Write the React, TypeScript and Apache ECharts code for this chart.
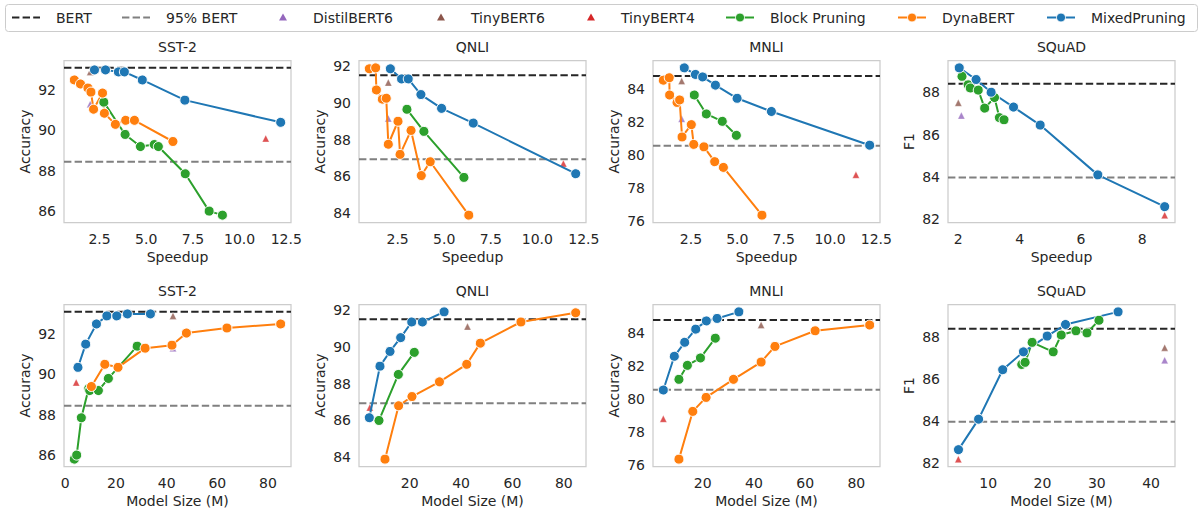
import React, { useEffect, useRef } from "react";
import * as echarts from "echarts";

const TASKS = ["SST-2", "QNLI", "MNLI", "SQuAD"];
const METRICS = ["Accuracy", "Accuracy", "Accuracy", "F1"];
const BERT = [93.1, 91.5, 84.8, 88.4];
const BERT95 = [88.45, 86.93, 80.56, 83.98];

const DISTIL_SPEEDUP = [2.0, 2.0, 2.0, 2.1];
const DISTIL_SIZE = [42.5, 42.5, 42.5, 42.5];
const DISTIL_SCORE = [91.3, 89.15, 82.2, 86.9];
const TINY6_SPEEDUP = [2.0, 2.0, 2.0, 2.0];
const TINY6_SIZE = [42.5, 42.5, 42.8, 42.5];
const TINY6_SCORE = [92.9, 91.1, 84.5, 87.5];
const TINY4_SPEEDUP = [11.4, 11.4, 11.4, 8.73];
const TINY4_SIZE = [4.3, 4.5, 4.6, 4.5];
const TINY4_SCORE = [89.6, 86.7, 78.8, 82.2];

// ---- Speedup row ----
const SST_SPD_MIXED_X = [2.23, 2.82, 3.51, 3.83, 4.79, 7.07, 12.2];
const SST_SPD_MIXED_Y = [93.0, 93.0, 92.9, 92.9, 92.5, 91.5, 90.4];
const SST_SPD_DYNA_X = [1.15, 1.48, 1.88, 2.04, 2.18, 2.66, 2.76, 3.35, 3.9, 4.37, 6.43];
const SST_SPD_DYNA_Y = [92.5, 92.3, 92.1, 91.9, 91.05, 91.85, 90.85, 90.3, 90.5, 90.5, 89.45];
const SST_SPD_BLOCK_X = [2.73, 3.87, 4.69, 5.43, 5.65, 7.09, 8.37, 9.08];
const SST_SPD_BLOCK_Y = [91.4, 89.8, 89.2, 89.3, 89.2, 87.85, 86.0, 85.8];

const QNLI_SPD_MIXED_X = [2.11, 2.71, 3.07, 3.75, 4.86, 6.56, 12.06];
const QNLI_SPD_MIXED_Y = [91.85, 91.3, 91.3, 90.45, 89.7, 88.9, 86.15];
const QNLI_SPD_DYNA_X = [0.98, 1.32, 1.36, 1.68, 1.89, 2.0, 2.52, 2.63, 3.22, 3.77, 4.25, 6.32];
const QNLI_SPD_DYNA_Y = [91.85, 91.9, 90.7, 90.2, 90.25, 87.75, 89.0, 87.2, 88.5, 86.05, 86.8, 83.9];
const QNLI_SPD_BLOCK_X = [3.0, 3.91, 6.06];
const QNLI_SPD_BLOCK_Y = [89.65, 88.45, 85.95];

const MNLI_SPD_MIXED_X = [2.14, 2.74, 3.13, 3.82, 4.99, 6.84, 12.14];
const MNLI_SPD_MIXED_Y = [85.3, 84.9, 84.75, 84.25, 83.45, 82.65, 80.6];
const MNLI_SPD_DYNA_X = [1.01, 1.33, 1.35, 1.75, 1.89, 2.02, 2.52, 2.65, 3.2, 3.78, 4.25, 6.33];
const MNLI_SPD_DYNA_Y = [84.55, 84.7, 83.65, 83.2, 83.35, 81.1, 81.85, 80.65, 80.5, 79.6, 79.25, 76.35];
const MNLI_SPD_BLOCK_X = [2.68, 3.33, 4.19, 4.95];
const MNLI_SPD_BLOCK_Y = [83.65, 82.5, 82.05, 81.2];

const SQUAD_SPD_MIXED_X = [2.03, 2.58, 3.07, 3.8, 4.67, 6.55, 8.73];
const SQUAD_SPD_MIXED_Y = [89.15, 88.6, 88.0, 87.3, 86.45, 84.1, 82.6];
const SQUAD_SPD_BLOCK_X = [2.12, 2.32, 2.39, 2.65, 2.86, 3.18, 3.34, 3.49];
const SQUAD_SPD_BLOCK_Y = [88.75, 88.35, 88.2, 88.1, 87.25, 87.75, 86.8, 86.7];

// ---- Model size row ----
const SST_SIZE_MIXED_X = [5.0, 8.05, 12.3, 16.4, 20.3, 24.5, 33.6];
const SST_SIZE_MIXED_Y = [90.35, 91.5, 92.5, 92.9, 92.9, 93.0, 93.0];
const SST_SIZE_DYNA_X = [10.3, 15.6, 20.8, 31.5, 42.1, 47.8, 63.8, 85.0];
const SST_SIZE_DYNA_Y = [89.4, 90.5, 90.35, 91.3, 91.45, 92.05, 92.3, 92.5];
const SST_SIZE_BLOCK_X = [3.56, 4.49, 6.33, 9.23, 9.63, 13.06, 17.0, 28.36];
const SST_SIZE_BLOCK_Y = [85.8, 86.0, 87.85, 89.3, 89.2, 89.2, 89.8, 91.4];

const QNLI_SIZE_MIXED_X = [4.3, 8.45, 12.35, 16.5, 20.8, 24.95, 33.4];
const QNLI_SIZE_MIXED_Y = [86.15, 88.95, 89.75, 90.5, 91.35, 91.35, 91.9];
const QNLI_SIZE_DYNA_X = [10.4, 15.7, 20.9, 31.6, 42.2, 47.5, 63.3, 84.6];
const QNLI_SIZE_DYNA_Y = [83.9, 86.8, 87.3, 88.1, 89.05, 90.2, 91.35, 91.85];
const QNLI_SIZE_BLOCK_X = [8.06, 15.6, 21.8];
const QNLI_SIZE_BLOCK_Y = [86.0, 88.5, 89.7];

const MNLI_SIZE_MIXED_X = [4.6, 8.9, 12.95, 17.25, 21.4, 25.6, 34.1];
const MNLI_SIZE_MIXED_Y = [80.55, 82.6, 83.45, 84.25, 84.75, 84.9, 85.3];
const MNLI_SIZE_DYNA_X = [10.7, 16.1, 21.3, 32.0, 42.8, 48.2, 63.9, 85.2];
const MNLI_SIZE_DYNA_Y = [76.35, 79.25, 80.1, 81.2, 82.25, 83.2, 84.15, 84.5];
const MNLI_SIZE_BLOCK_X = [10.7, 14.0, 19.1, 24.9];
const MNLI_SIZE_BLOCK_Y = [81.2, 82.05, 82.5, 83.7];

const SQUAD_SIZE_MIXED_X = [4.53, 8.23, 12.67, 16.49, 20.86, 24.24, 33.92];
const SQUAD_SIZE_MIXED_Y = [82.65, 84.1, 86.45, 87.3, 88.05, 88.6, 89.2];
const SQUAD_SIZE_BLOCK_X = [16.18, 16.8, 18.09, 21.97, 23.45, 26.16, 28.19, 30.4];
const SQUAD_SIZE_BLOCK_Y = [86.7, 86.8, 87.75, 87.3, 88.1, 88.3, 88.2, 88.8];

const Y_TICKS = [
  [86, 88, 90, 92],
  [84, 86, 88, 90, 92],
  [76, 78, 80, 82, 84],
  [82, 84, 86, 88],
];
const SPEEDUP_TICKS = [2.5, 5, 7.5, 10, 12.5];
const SQUAD_SPEEDUP_TICKS = [2, 4, 6, 8];
const SIZE_TICKS = [0, 20, 40, 60, 80];
const SQUAD_SIZE_TICKS = [10, 20, 30, 40];

const LEGEND_NAMES = ["BERT", "95% BERT", "DistilBERT6", "TinyBERT6", "TinyBERT4", "Block Pruning", "DynaBERT", "MixedPruning"];

const C = {
  blue: "#1f77b4",
  orange: "#ff7f0e",
  green: "#2ca02c",
  red: "#d62728",
  purple: "#9467bd",
  brown: "#8c564b",
  bert: "#262626",
  bert95: "#808080",
  text: "#262626",
  frame: "#cccccc",
};

type Pair = [number[], number[]] | null;
interface Panel {
  task: number;
  row: number;
  block: Pair;
  dyna: Pair;
  mixed: Pair;
}

const PANELS: Panel[] = [
  { task: 0, row: 0, block: [SST_SPD_BLOCK_X, SST_SPD_BLOCK_Y], dyna: [SST_SPD_DYNA_X, SST_SPD_DYNA_Y], mixed: [SST_SPD_MIXED_X, SST_SPD_MIXED_Y] },
  { task: 1, row: 0, block: [QNLI_SPD_BLOCK_X, QNLI_SPD_BLOCK_Y], dyna: [QNLI_SPD_DYNA_X, QNLI_SPD_DYNA_Y], mixed: [QNLI_SPD_MIXED_X, QNLI_SPD_MIXED_Y] },
  { task: 2, row: 0, block: [MNLI_SPD_BLOCK_X, MNLI_SPD_BLOCK_Y], dyna: [MNLI_SPD_DYNA_X, MNLI_SPD_DYNA_Y], mixed: [MNLI_SPD_MIXED_X, MNLI_SPD_MIXED_Y] },
  { task: 3, row: 0, block: [SQUAD_SPD_BLOCK_X, SQUAD_SPD_BLOCK_Y], dyna: null, mixed: [SQUAD_SPD_MIXED_X, SQUAD_SPD_MIXED_Y] },
  { task: 0, row: 1, block: [SST_SIZE_BLOCK_X, SST_SIZE_BLOCK_Y], dyna: [SST_SIZE_DYNA_X, SST_SIZE_DYNA_Y], mixed: [SST_SIZE_MIXED_X, SST_SIZE_MIXED_Y] },
  { task: 1, row: 1, block: [QNLI_SIZE_BLOCK_X, QNLI_SIZE_BLOCK_Y], dyna: [QNLI_SIZE_DYNA_X, QNLI_SIZE_DYNA_Y], mixed: [QNLI_SIZE_MIXED_X, QNLI_SIZE_MIXED_Y] },
  { task: 2, row: 1, block: [MNLI_SIZE_BLOCK_X, MNLI_SIZE_BLOCK_Y], dyna: [MNLI_SIZE_DYNA_X, MNLI_SIZE_DYNA_Y], mixed: [MNLI_SIZE_MIXED_X, MNLI_SIZE_MIXED_Y] },
  { task: 3, row: 1, block: [SQUAD_SIZE_BLOCK_X, SQUAD_SIZE_BLOCK_Y], dyna: null, mixed: [SQUAD_SIZE_MIXED_X, SQUAD_SIZE_MIXED_Y] },
];

const GRID_LEFTS = [64, 359, 653, 948];
const GRID_TOPS = [60.5, 304.5];
const GRID_W = 227;
const GRID_H = 162;
const FONT = "DejaVu Sans";

function pairs(p: Pair): number[][] {
  if (!p) return [];
  const out = p[0].map((x, i) => [x, p[1][i]]);
  out.sort((a, b) => a[0] - b[0]);
  return out;
}

function buildOption() {
  const grids: any[] = [];
  const xAxes: any[] = [];
  const yAxes: any[] = [];
  const series: any[] = [];
  const titles: any[] = [];

  PANELS.forEach((p, i) => {
    const t = p.task;
    const left = GRID_LEFTS[t];
    const top = GRID_TOPS[p.row];
    grids.push({ left, top, width: GRID_W, height: GRID_H, show: true, borderColor: C.frame, borderWidth: 1.25, backgroundColor: "transparent" });

    const sx = p.row === 0 ? TINY4_SPEEDUP[t] : TINY4_SIZE[t];
    const s6 = p.row === 0 ? TINY6_SPEEDUP[t] : TINY6_SIZE[t];
    const sd = p.row === 0 ? DISTIL_SPEEDUP[t] : DISTIL_SIZE[t];
    const tri = [
      { name: "DistilBERT6", pt: [sd, DISTIL_SCORE[t]], color: C.purple },
      { name: "TinyBERT6", pt: [s6, TINY6_SCORE[t]], color: C.brown },
      { name: "TinyBERT4", pt: [sx, TINY4_SCORE[t]], color: C.red },
    ];
    const lines = [
      { name: "Block Pruning", d: pairs(p.block), color: C.green },
      { name: "DynaBERT", d: pairs(p.dyna), color: C.orange },
      { name: "MixedPruning", d: pairs(p.mixed), color: C.blue },
    ];
    const allX: number[] = [];
    const allY: number[] = [BERT[t], BERT95[t]];
    tri.forEach((s) => { allX.push(s.pt[0]); allY.push(s.pt[1]); });
    lines.forEach((l) => l.d.forEach((q) => { allX.push(q[0]); allY.push(q[1]); }));
    const x0 = Math.min(...allX), x1 = Math.max(...allX);
    const y0 = Math.min(...allY), y1 = Math.max(...allY);
    const xmin = x0 - 0.05 * (x1 - x0), xmax = x1 + 0.05 * (x1 - x0);
    const ymin = y0 - 0.05 * (y1 - y0), ymax = y1 + 0.05 * (y1 - y0);

    let xt: number[];
    let fmt: (v: number) => string = (v) => String(Math.round(v));
    if (p.row === 0) {
      if (t === 3) xt = SQUAD_SPEEDUP_TICKS;
      else { xt = SPEEDUP_TICKS; fmt = (v) => Number(v).toFixed(1); }
    } else {
      xt = t === 3 ? SQUAD_SIZE_TICKS : SIZE_TICKS;
    }
    xt = xt.filter((v) => v >= xmin && v <= xmax);
    const yt = Y_TICKS[t].filter((v) => v >= ymin && v <= ymax);

    const labelStyle = { color: C.text, fontSize: 14, fontFamily: FONT };
    xAxes.push({
      type: "value", gridIndex: i, min: xmin, max: xmax,
      axisLine: { show: false }, axisTick: { show: false }, splitLine: { show: false },
      axisLabel: { ...labelStyle, margin: 9, customValues: xt, formatter: (v: number) => fmt(v) },
      name: p.row === 0 ? "Speedup" : "Model Size (M)",
      nameLocation: "middle", nameGap: 27,
      nameTextStyle: { color: C.text, fontSize: 14, fontFamily: FONT },
    });
    yAxes.push({
      type: "value", gridIndex: i, min: ymin, max: ymax,
      axisLine: { show: false }, axisTick: { show: false }, splitLine: { show: false },
      axisLabel: { ...labelStyle, margin: 8, customValues: yt, formatter: (v: number) => String(Math.round(v)) },
      name: METRICS[t], nameLocation: "middle", nameGap: 32,
      nameTextStyle: { color: C.text, fontSize: 14, fontFamily: FONT },
    });
    titles.push({
      text: TASKS[t], left: left + GRID_W / 2, top: top - 21, textAlign: "center", padding: 0,
      textStyle: { color: C.text, fontSize: 14, fontWeight: "normal", fontFamily: FONT },
    });

    series.push({
      name: "BERT", type: "line", xAxisIndex: i, yAxisIndex: i, silent: true, z: 1,
      data: [[xmin, BERT[t]], [xmax, BERT[t]]], symbol: "none",
      lineStyle: { color: C.bert, width: 2, type: [7.4, 3.2] },
    });
    series.push({
      name: "95% BERT", type: "line", xAxisIndex: i, yAxisIndex: i, silent: true, z: 1,
      data: [[xmin, BERT95[t]], [xmax, BERT95[t]]], symbol: "none",
      lineStyle: { color: C.bert95, width: 2, type: [7.4, 3.2] },
    });
    tri.forEach((s) => {
      series.push({
        name: s.name, type: "scatter", xAxisIndex: i, yAxisIndex: i, z: 2,
        symbol: "triangle", symbolSize: 7, data: [s.pt],
        itemStyle: { color: s.color, borderColor: "#ffffff", borderWidth: 0.4 },
      });
    });
    lines.forEach((l) => {
      if (!l.d.length) return;
      series.push({
        name: l.name, type: "line", xAxisIndex: i, yAxisIndex: i, z: 3,
        data: l.d, symbol: "circle", symbolSize: 10, showSymbol: true,
        lineStyle: { color: l.color, width: 2 },
        itemStyle: { color: l.color, borderColor: "#ffffff", borderWidth: 1 },
      });
    });
  });

  // Legend drawn as graphic
  const g: any[] = [];
  const cy = 17.5;
  g.push({ type: "rect", z: 100, shape: { x: 5.5, y: 4.5, width: 1192, height: 27, r: 3 }, style: { fill: "#ffffff", stroke: "#cccccc", lineWidth: 1 } });
  const handleX = [12, 122, 269, 427, 577, 726, 898, 1047];
  LEGEND_NAMES.forEach((name, k) => {
    const hx = handleX[k];
    const mid = hx + 14;
    if (k === 0 || k === 1) {
      g.push({ type: "line", z: 101, shape: { x1: hx, y1: cy, x2: hx + 28, y2: cy }, style: { stroke: k === 0 ? C.bert : C.bert95, lineWidth: 2, lineDash: [7.4, 3.2] } });
    } else if (k <= 4) {
      const col = [C.purple, C.brown, C.red][k - 2];
      g.push({ type: "polygon", z: 101, shape: { points: [[mid, cy - 4], [mid + 4, cy + 3], [mid - 4, cy + 3]] }, style: { fill: col } });
    } else {
      const col = [C.green, C.orange, C.blue][k - 5];
      g.push({ type: "line", z: 101, shape: { x1: hx, y1: cy, x2: hx + 28, y2: cy }, style: { stroke: col, lineWidth: 2 } });
      g.push({ type: "circle", z: 102, shape: { cx: mid, cy, r: 4.5 }, style: { fill: col, stroke: "#ffffff", lineWidth: 1 } });
    }
    g.push({ type: "text", z: 101, x: hx + 44, y: cy, style: { text: name, fill: C.text, fontSize: 14, fontFamily: FONT, textAlign: "left", textVerticalAlign: "middle" } });
  });

  return {
    animation: false,
    backgroundColor: "#ffffff",
    textStyle: { fontFamily: FONT },
    title: titles,
    grid: grids,
    xAxis: xAxes,
    yAxis: yAxes,
    series,
    graphic: g,
  };
}

export default function App() {
  const ref = useRef<HTMLDivElement>(null);
  useEffect(() => {
    if (!ref.current) return;
    const chart = echarts.init(ref.current, null, { renderer: "svg" });
    chart.setOption(buildOption() as any);
    return () => chart.dispose();
  }, []);
  return <div ref={ref} style={{ position: "absolute", left: 0, top: 0, width: 1203, height: 509 }} />;
}
